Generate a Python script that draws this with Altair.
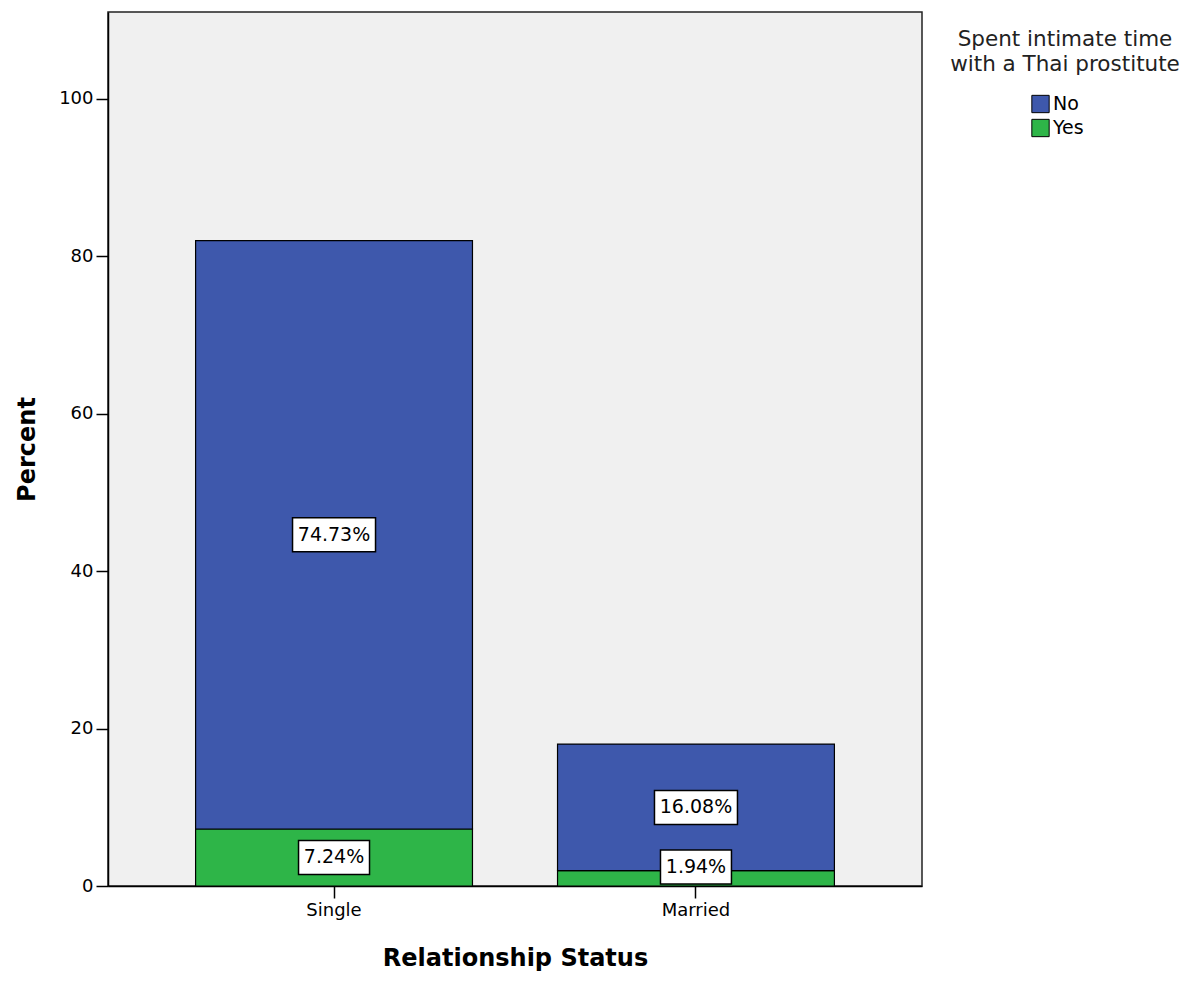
import altair as alt
import pandas as pd

statuses = ["Single", "Single", "Married", "Married"]
responses = ["Yes", "No", "Yes", "No"]
percents = [7.24, 74.73, 1.94, 16.08]
labels = ["7.24%", "74.73%", "1.94%", "16.08%"]
y_ticks = [0, 20, 40, 60, 80, 100]

rows = []
base = {}
for s, r, p, l in zip(statuses, responses, percents, labels):
    b = base.get(s, 0.0)
    rows.append({"status": s, "resp": r, "pct": p, "lo": b, "hi": b + p,
                 "mid": max(b + p / 2, 2.4), "label": l, "n": str(len(l))})
    base[s] = b + p
df = pd.DataFrame(rows)

FONT = "DejaVu Sans"
blue = "#3E58AC"
green = "#2EB548"

xs = alt.X("status:N", sort=["Single", "Married"],
           scale=alt.Scale(paddingInner=0.235, paddingOuter=0.242),
           axis=alt.Axis(title="Relationship Status", labelAngle=0, tickSize=12,
                         labelPadding=3, titlePadding=27))

bars = alt.Chart(df).mark_bar(stroke="black", strokeWidth=1.2).encode(
    x=xs,
    y=alt.Y("lo:Q", scale=alt.Scale(domain=[0, 111], nice=False),
            axis=alt.Axis(title="Percent", values=y_ticks, tickSize=12, labelPadding=3,
                          titlePadding=19, grid=False)),
    y2="hi:Q",
    color=alt.Color("resp:N", scale=alt.Scale(domain=["No", "Yes"], range=[blue, green]),
                    legend=alt.Legend(title=["Spent intimate time", "with a Thai prostitute"],
                                      orient="none", legendX=842, legendY=17,
                                      symbolType="square", symbolSize=300,
                                      symbolStrokeColor="black", symbolStrokeWidth=1,
                                      symbolOpacity=1,
                                      symbolOffset=-16, labelOffset=3,
                                      labelFontSize=19, labelFont=FONT, labelColor="black",
                                      titleFontSize=21.5, titleFont=FONT, titleFontWeight="normal",
                                      titleColor="#222", titleAlign="center", titleAnchor="middle",
                                      titleLineHeight=25, titlePadding=19, rowPadding=1,
                                      titleLimit=500, labelLimit=300,
                                      padding=0)),
)

path6 = "M-0.988,-0.405L0.988,-0.405L0.988,0.405L-0.988,0.405Z"
path5 = "M-0.845,-0.405L0.845,-0.405L0.845,0.405L-0.845,0.405Z"

boxes = alt.Chart(df).mark_point(filled=True, fill="white", stroke="black",
                                  strokeWidth=1.5, opacity=1, size=7056).encode(
    x=alt.X("status:N", sort=["Single", "Married"]),
    y="mid:Q",
    shape=alt.Shape("n:N", scale=alt.Scale(domain=["5", "6"], range=[path5, path6]), legend=None),
)

texts = alt.Chart(df).mark_text(font=FONT, fontSize=19, color="black").encode(
    x=alt.X("status:N", sort=["Single", "Married"]),
    y="mid:Q",
    text="label:N",
)

chart = alt.layer(bars, boxes, texts).properties(
    width=814, height=874,
    padding={"left": 100, "top": 4, "right": 274, "bottom": 87},
    autosize=alt.AutoSizeParams(type="none"),
).configure_view(
    fill="#F0F0F0", stroke="#222", strokeWidth=1.5,
).configure_axis(
    labelFont=FONT, labelFontSize=18, labelColor="black",
    titleFont=FONT, titleFontSize=24, titleFontWeight="bold", titleColor="black",
    domainColor="black", tickColor="black", domainWidth=1.5, tickWidth=1.5,
)

chart.save("out.html", embed_options={"renderer": "svg", "actions": False})
